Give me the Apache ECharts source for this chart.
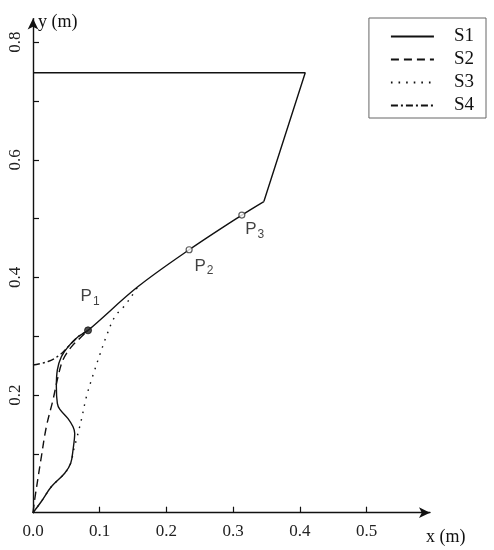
<!DOCTYPE html>
<html>
<head>
<meta charset="utf-8">
<script src="https://cdn.jsdelivr.net/npm/echarts@6/dist/echarts.min.js"></script>
<style>html,body{margin:0;padding:0;background:#fff}#c{width:494px;height:550px}</style>
</head>
<body>
<div id="c"></div>
<script>
// ---- data (x, y in metres) ----
var s1LowerX = [0, 0.0125, 0.0274, 0.0475, 0.0565, 0.060, 0.0625, 0.060, 0.0525, 0.040, 0.0365, 0.035, 0.0365, 0.0425, 0.0525, 0.0675, 0.0825, 0.157, 0.234, 0.313, 0.346];
var s1LowerY = [0, 0.019, 0.044, 0.067, 0.084, 0.107, 0.135, 0.146, 0.160, 0.176, 0.186, 0.214, 0.243, 0.265, 0.282, 0.299, 0.310, 0.384, 0.447, 0.506, 0.529];
var s1UpperX = [0.346, 0.408, 0];
var s1UpperY = [0.529, 0.748, 0.748];
var s2X = [0, 0.0025, 0.0125, 0.020, 0.030, 0.0375, 0.045, 0.0575, 0.0725, 0.0825];
var s2Y = [0, 0.022, 0.095, 0.146, 0.192, 0.231, 0.260, 0.282, 0.299, 0.310];
var s3X = [0, 0.0125, 0.0274, 0.0475, 0.0565, 0.061, 0.065, 0.0725, 0.080, 0.090, 0.100, 0.110, 0.1225, 0.1375, 0.1525, 0.157];
var s3Y = [0, 0.019, 0.044, 0.067, 0.084, 0.107, 0.124, 0.158, 0.197, 0.234, 0.268, 0.300, 0.333, 0.352, 0.376, 0.384];
var s4X = [0, 0.0225, 0.040, 0.0525, 0.0675, 0.0825];
var s4Y = [0.251, 0.257, 0.268, 0.282, 0.299, 0.310];
var pointNames = ['1', '2', '3'];
var pointX = [0.0825, 0.234, 0.313];
var pointY = [0.310, 0.447, 0.506];
var seriesNames = ['S1', 'S2', 'S3', 'S4'];
var xTickValues = [0.1, 0.2, 0.3, 0.4, 0.5];
var xLabelValues = [0, 0.1, 0.2, 0.3, 0.4, 0.5];
var yTickValues = [0.1, 0.2, 0.3, 0.4, 0.5, 0.6, 0.7, 0.8];
var yLabelValues = [0.2, 0.4, 0.6, 0.8];

function pairs(xs, ys) { return xs.map(function (x, i) { return [x, ys[i]]; }); }

var INK = '#111';
var SERIF = '"Liberation Serif", "DejaVu Serif", serif';
var SANS = '"Liberation Sans", Arial, sans-serif';

var labelPos = [
  { position: [6, -30], align: 'center', verticalAlign: 'middle' },
  { position: [9, 20], align: 'left', verticalAlign: 'middle' },
  { position: [7, 18], align: 'left', verticalAlign: 'middle' }
];
var pointData = pointX.map(function (x, i) {
  return {
    value: [x, pointY[i]],
    name: pointNames[i],
    symbolSize: i === 0 ? 7 : 6,
    itemStyle: i === 0 ? { color: '#222', borderColor: '#111', borderWidth: 1 } : { color: '#fff', borderColor: '#333', borderWidth: 1.2 },
    label: labelPos[i]
  };
});

function lineSeries(name, data, type, smooth, z) {
  return {
    name: name, type: 'line', data: data, showSymbol: false, symbol: 'none',
    smooth: smooth, z: z, animation: false,
    itemStyle: { color: INK },
    lineStyle: { color: INK, width: 1.4, type: type }
  };
}

var chart = echarts.init(document.getElementById('c'), null, { renderer: 'canvas' });
chart.setOption({
  backgroundColor: '#fff',
  animation: false,
  grid: { left: 33, right: 64, top: 18.6, bottom: 37.3 },
  legend: {
    data: seriesNames,
    orient: 'vertical', right: 8, top: 18,
    itemWidth: 43, itemHeight: 14, itemGap: 4,
    padding: [9, 12, 3, 21],
    borderColor: '#666', borderWidth: 1, borderRadius: 0,
    itemStyle: { color: 'transparent', borderWidth: 0, opacity: 0 },
    textStyle: { fontFamily: SERIF, fontSize: 19, color: INK, lineHeight: 14, padding: [0, 0, 0, 15] }
  },
  xAxis: {
    type: 'value', min: 0, max: 0.595, interval: 0.1,
    name: 'x (m)', nameLocation: 'end', nameGap: -4,
    nameTextStyle: { fontFamily: SERIF, fontSize: 18, color: INK, align: 'left', verticalAlign: 'top', padding: [16, 0, 0, 0] },
    axisLine: { show: true, onZero: false, symbol: ['none', 'arrow'], symbolSize: [8, 11], lineStyle: { color: INK, width: 1.4 } },
    axisTick: { show: true, inside: true, length: 6, customValues: xTickValues, lineStyle: { color: INK, width: 1.2 } },
    axisLabel: { customValues: xLabelValues, formatter: function (v) { return v.toFixed(1); }, fontFamily: SERIF, fontSize: 17, color: '#222', margin: 10 },
    splitLine: { show: false }
  },
  yAxis: {
    type: 'value', min: 0, max: 0.84, interval: 0.1,
    name: 'y (m)', nameLocation: 'end', nameGap: -4,
    nameTextStyle: { fontFamily: SERIF, fontSize: 18, color: INK, align: 'left', verticalAlign: 'middle', padding: [0, 0, 0, 5] },
    axisLine: { show: true, onZero: false, symbol: ['none', 'arrow'], symbolSize: [8, 11], lineStyle: { color: INK, width: 1.4 } },
    axisTick: { show: true, inside: true, length: 6, customValues: yTickValues, lineStyle: { color: INK, width: 1.2 } },
    axisLabel: { customValues: yLabelValues, rotate: 90, formatter: function (v) { return v.toFixed(1); }, fontFamily: SERIF, fontSize: 17, color: '#222', margin: 9 },
    splitLine: { show: false }
  },
  series: [
    lineSeries('S1', pairs(s1LowerX, s1LowerY), 'solid', 0.35, 5),
    lineSeries('S1', pairs(s1UpperX, s1UpperY), 'solid', false, 5),
    lineSeries('S2', pairs(s2X, s2Y), [8, 5], 0.35, 4),
    lineSeries('S3', pairs(s3X, s3Y), [1.6, 6], 0.35, 3),
    lineSeries('S4', pairs(s4X, s4Y), [7, 3, 2, 3], 0.35, 4),
    {
      name: 'points', type: 'scatter', data: pointData, z: 10, animation: false,
      label: {
        show: true,
        formatter: function (p) { return '{p|P}{s|' + p.name + '}'; },
        rich: {
          p: { fontFamily: SANS, fontSize: 17, color: '#111' },
          s: { fontFamily: SANS, fontSize: 12, color: '#111', padding: [10, 0, 0, 1] }
        }
      }
    }
  ]
});
</script>
</body>
</html>
